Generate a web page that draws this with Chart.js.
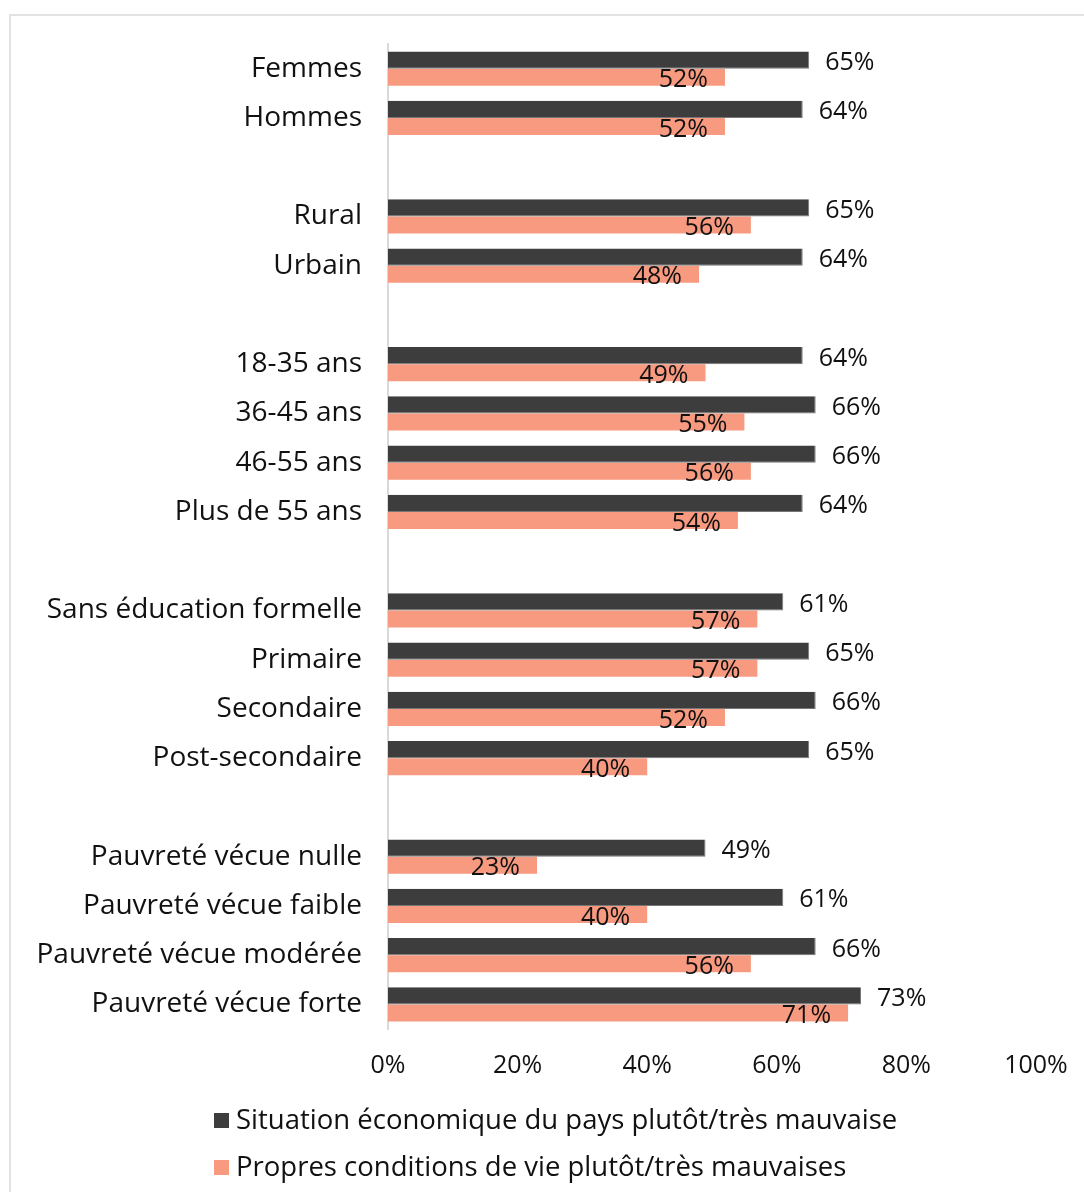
<!DOCTYPE html>
<html lang="fr">
<head>
  <meta charset="UTF-8" />
  <title>Situation économique et conditions de vie</title>
  <script src="https://cdn.jsdelivr.net/npm/chart.js"></script>
  <style>
    body {
      margin: 0;
      background: #ffffff;
      font-family: 'Open Sans', sans-serif;
      color: #111;
    }
    .wrap {
      position: relative;
      width: 1084px;
      height: 1192px;
      overflow: hidden;
    }
    .frame {
      position: absolute;
      left: 9px;
      top: 14px;
      width: 1200px;
      height: 1300px;
      border: 2px solid #e2e2e2;
    }
    canvas {
      position: absolute;
      left: 0;
      top: 0;
    }
    .legend {
      position: absolute;
      left: 214px;
      font-size: 27.5px;
      line-height: 32px;
      white-space: nowrap;
    }
    .legend span.box {
      display: inline-block;
      width: 15px;
      height: 15px;
      margin-right: 7px;
      vertical-align: 1px;
    }
  </style>
</head>
<body>
  <div class="wrap">
    <div class="frame"></div>
    <canvas id="chart" width="1084" height="1192"></canvas>
    <div class="legend" id="leg1" style="top:1103px;"></div>
    <div class="legend" id="leg2" style="top:1150px;"></div>
  </div>

  <script>
    const categories = [
      "Femmes", "Hommes", "",
      "Rural", "Urbain", "",
      "18-35 ans", "36-45 ans", "46-55 ans", "Plus de 55 ans", "",
      "Sans éducation formelle", "Primaire", "Secondaire", "Post-secondaire", "",
      "Pauvreté vécue nulle", "Pauvreté vécue faible", "Pauvreté vécue modérée", "Pauvreté vécue forte"
    ];
    const seriesNames = [
      "Situation économique du pays plutôt/très mauvaise",
      "Propres conditions de vie plutôt/très mauvaises"
    ];
    const economie = [65, 64, null, 65, 64, null, 64, 66, 66, 64, null, 61, 65, 66, 65, null, 49, 61, 66, 73];
    const conditions = [52, 52, null, 56, 48, null, 49, 55, 56, 54, null, 57, 57, 52, 40, null, 23, 40, 56, 71];
    const xTicks = [0, 20, 40, 60, 80, 100];

    const colors = ["#3d3d3d", "#f79a80"];
    const font = "'Open Sans', sans-serif";

    // legend as plain html
    [seriesNames[0], seriesNames[1]].forEach((name, i) => {
      document.getElementById("leg" + (i + 1)).innerHTML =
        `<span class="box" style="background:${colors[i]}"></span>${name}`;
    });

    // value labels: dark ones outside the bar end, salmon ones inside
    const barLabels = {
      id: "barLabels",
      afterDatasetsDraw(chart) {
        const ctx = chart.ctx;
        ctx.save();
        ctx.font = "25px " + font;
        ctx.fillStyle = "#111";
        ctx.textBaseline = "middle";
        chart.data.datasets.forEach((ds, di) => {
          const meta = chart.getDatasetMeta(di);
          meta.data.forEach((bar, i) => {
            const v = ds.data[i];
            if (v === null) return;
            if (di === 0) {
              ctx.textAlign = "left";
              ctx.fillText(v + "%", bar.x + 16, bar.y + 3);
            } else {
              ctx.textAlign = "right";
              ctx.fillText(v + "%", bar.x - 17, bar.y + 3);
            }
          });
        });
        ctx.restore();
      }
    };

    new Chart(document.getElementById("chart"), {
      type: "bar",
      data: {
        labels: categories,
        datasets: [
          {
            label: seriesNames[0],
            data: economie,
            backgroundColor: colors[0],
            borderColor: "#777",
            borderWidth: { top: 0, left: 0, right: 1, bottom: 1 },
            borderSkipped: false,
            categoryPercentage: 0.7,
            barPercentage: 1.0
          },
          {
            label: seriesNames[1],
            data: conditions,
            backgroundColor: colors[1],
            borderWidth: 0,
            categoryPercentage: 0.7,
            barPercentage: 1.0
          }
        ]
      },
      options: {
        indexAxis: "y",
        responsive: false,
        animation: false,
        layout: { padding: { top: 44, right: 48, left: 0, bottom: 0 } },
        plugins: {
          legend: { display: false },
          tooltip: { enabled: false }
        },
        scales: {
          x: {
            min: 0,
            max: 100,
            afterBuildTicks: (scale) => { scale.ticks = xTicks.map(v => ({ value: v })); },
            afterFit: (scale) => {
              scale.height = 163;
              scale.paddingLeft = 0;
              scale.paddingRight = 0;
            },
            grid: { display: false, drawTicks: false },
            border: { display: false },
            ticks: {
              padding: 22,
              color: "#111",
              font: { family: font, size: 25 },
              callback: (v) => v + "%"
            }
          },
          y: {
            afterFit: (scale) => { scale.width = 388; },
            grid: { display: false, drawTicks: false },
            border: { display: true, color: "#d9d9d9", width: 2 },
            ticks: {
              padding: 26,
              color: "#111",
              autoSkip: false,
              font: { family: font, size: 28 }
            }
          }
        }
      },
      plugins: [barLabels]
    });
  </script>
</body>
</html>
